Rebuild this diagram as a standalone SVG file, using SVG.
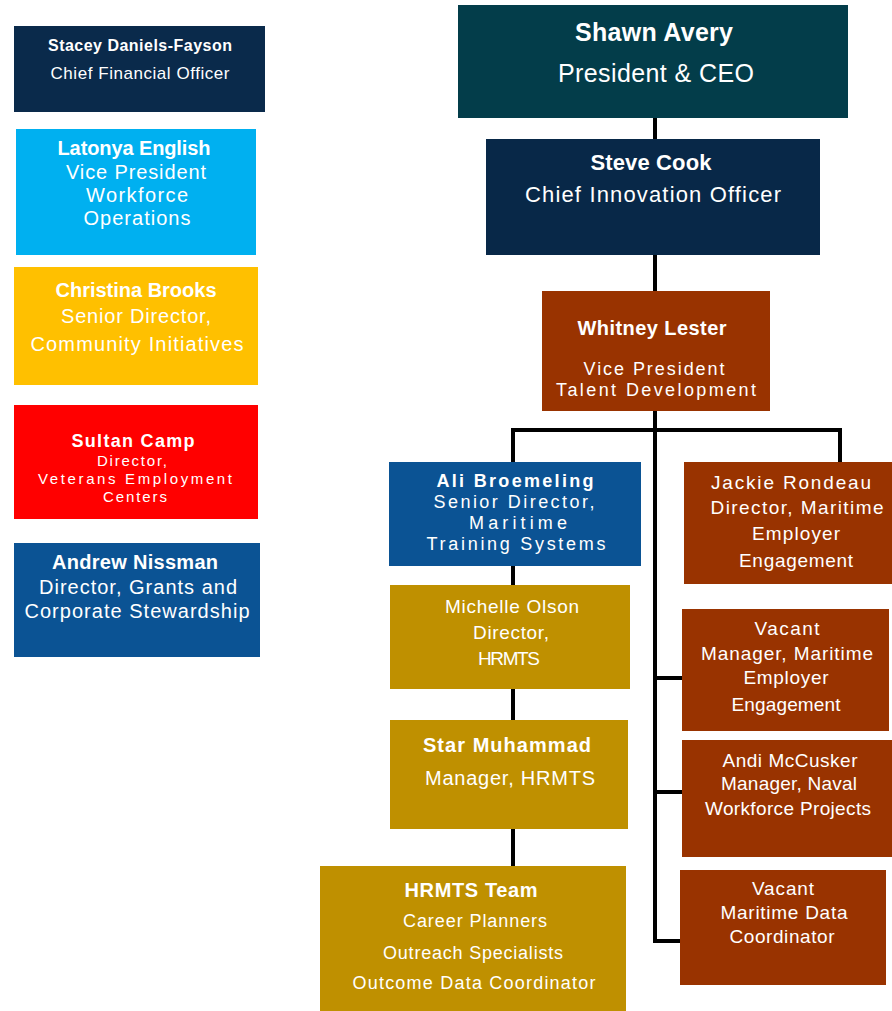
<svg xmlns="http://www.w3.org/2000/svg" width="892" height="1011" viewBox="0 0 892 1011">
<style>
text{font-family:"Liberation Sans",Arial,sans-serif;fill:#fff;text-anchor:middle}
.b{font-weight:bold}
.c{stroke:#000;stroke-width:4;fill:none;stroke-linecap:square}
</style>
<rect width="892" height="1011" fill="#fff"/>
<g id="connectors">
<path class="c" d="M655 118V139M655 255V291M655 411V941M513 430H840M513 430V462M840 430V462M655 678H682M655 792H682M655 941H680M513 566V585M513 689V720M513 829V866"/>
</g>
<g id="stacey">
<rect x="14" y="26" width="251" height="86" fill="#0a2a4b"/>
<text x="140" y="51" class="b" font-size="16" textLength="184">Stacey Daniels-Fayson</text>
<text x="140" y="79" font-size="17" textLength="179">Chief Financial Officer</text>
</g>
<g id="latonya">
<rect x="16" y="129" width="240" height="126" fill="#00b0f0"/>
<text x="134" y="155" class="b" font-size="20" textLength="153">Latonya English</text>
<text x="136" y="179" font-size="20" textLength="140">Vice President</text>
<text x="137" y="202" font-size="20" textLength="102">Workforce</text>
<text x="137" y="225" font-size="20" textLength="107">Operations</text>
</g>
<g id="christina">
<rect x="14" y="267" width="244" height="118" fill="#ffc000"/>
<text x="136" y="297" class="b" font-size="20" textLength="161">Christina Brooks</text>
<text x="136" y="323" font-size="20" textLength="150">Senior Director,</text>
<text x="137" y="351" font-size="20" textLength="213">Community Initiatives</text>
</g>
<g id="sultan">
<rect x="14" y="405" width="244" height="114" fill="#ff0000"/>
<text x="133" y="447" class="b" font-size="18" textLength="123">Sultan Camp</text>
<text x="132" y="466" font-size="15" textLength="70">Director,</text>
<text x="135" y="484" font-size="15" textLength="194">Veterans Employment</text>
<text x="135" y="502" font-size="15" textLength="64">Centers</text>
</g>
<g id="andrew">
<rect x="14" y="543" width="246" height="114" fill="#0b5394"/>
<text x="135" y="569" class="b" font-size="20" textLength="166">Andrew Nissman</text>
<text x="138" y="594" font-size="20" textLength="198">Director, Grants and</text>
<text x="137" y="618" font-size="20" textLength="225">Corporate Stewardship</text>
</g>
<g id="shawn">
<rect x="458" y="5" width="390" height="113" fill="#033d4a"/>
<text x="654" y="41" class="b" font-size="25" textLength="158">Shawn Avery</text>
<text x="656" y="82" font-size="25" textLength="196">President &amp; CEO</text>
</g>
<g id="steve">
<rect x="486" y="139" width="334" height="116" fill="#082848"/>
<text x="651" y="170" class="b" font-size="22" textLength="121">Steve Cook</text>
<text x="653" y="202" font-size="22" textLength="256">Chief Innovation Officer</text>
</g>
<g id="whitney">
<rect x="542" y="291" width="228" height="120" fill="#993300"/>
<text x="652" y="335" class="b" font-size="20" textLength="149">Whitney Lester</text>
<text x="654" y="375" font-size="18" textLength="141">Vice President</text>
<text x="656" y="396" font-size="18" textLength="200">Talent Development</text>
</g>
<g id="ali">
<rect x="389" y="462" width="252" height="104" fill="#0b5394"/>
<text x="515" y="487" class="b" font-size="18" textLength="157">Ali Broemeling</text>
<text x="514" y="508" font-size="18" textLength="161">Senior Director,</text>
<text x="518" y="529" font-size="18" textLength="98">Maritime</text>
<text x="516" y="550" font-size="18" textLength="179">Training Systems</text>
</g>
<g id="jackie">
<rect x="684" y="462" width="208" height="122" fill="#993300"/>
<text x="791" y="489" font-size="19" textLength="160">Jackie Rondeau</text>
<text x="797" y="514" font-size="19" textLength="173">Director, Maritime</text>
<text x="796" y="540" font-size="19" textLength="88">Employer</text>
<text x="796" y="567" font-size="19" textLength="114">Engagement</text>
</g>
<g id="michelle">
<rect x="390" y="585" width="240" height="104" fill="#bf9000"/>
<text x="512" y="613" font-size="19" textLength="134">Michelle Olson</text>
<text x="511" y="639" font-size="19" textLength="76">Director,</text>
<text x="509" y="665" font-size="19" textLength="62">HRMTS</text>
</g>
<g id="star">
<rect x="390" y="720" width="238" height="109" fill="#bf9000"/>
<text x="507" y="752" class="b" font-size="20" textLength="168">Star Muhammad</text>
<text x="510" y="785" font-size="20" textLength="170">Manager, HRMTS</text>
</g>
<g id="hrmts-team">
<rect x="320" y="866" width="306" height="145" fill="#bf9000"/>
<text x="471" y="897" class="b" font-size="20" textLength="133">HRMTS Team</text>
<text x="475" y="927" font-size="18" textLength="144">Career Planners</text>
<text x="473" y="959" font-size="18" textLength="180">Outreach Specialists</text>
<text x="474" y="989" font-size="18" textLength="243">Outcome Data Coordinator</text>
</g>
<g id="vacant-mee">
<rect x="682" y="609" width="207" height="122" fill="#993300"/>
<text x="787" y="635" font-size="19" textLength="65">Vacant</text>
<text x="787" y="660" font-size="19" textLength="172">Manager, Maritime</text>
<text x="786" y="684" font-size="19" textLength="85">Employer</text>
<text x="786" y="711" font-size="19" textLength="109">Engagement</text>
</g>
<g id="andi">
<rect x="682" y="740" width="210" height="117" fill="#993300"/>
<text x="790" y="767" font-size="19" textLength="135">Andi McCusker</text>
<text x="789" y="790" font-size="19" textLength="136">Manager, Naval</text>
<text x="788" y="815" font-size="19" textLength="166">Workforce Projects</text>
</g>
<g id="vacant-mdc">
<rect x="680" y="870" width="206" height="115" fill="#993300"/>
<text x="783" y="895" font-size="19" textLength="62">Vacant</text>
<text x="784" y="919" font-size="19" textLength="127">Maritime Data</text>
<text x="782" y="943" font-size="19" textLength="105">Coordinator</text>
</g>
</svg>
